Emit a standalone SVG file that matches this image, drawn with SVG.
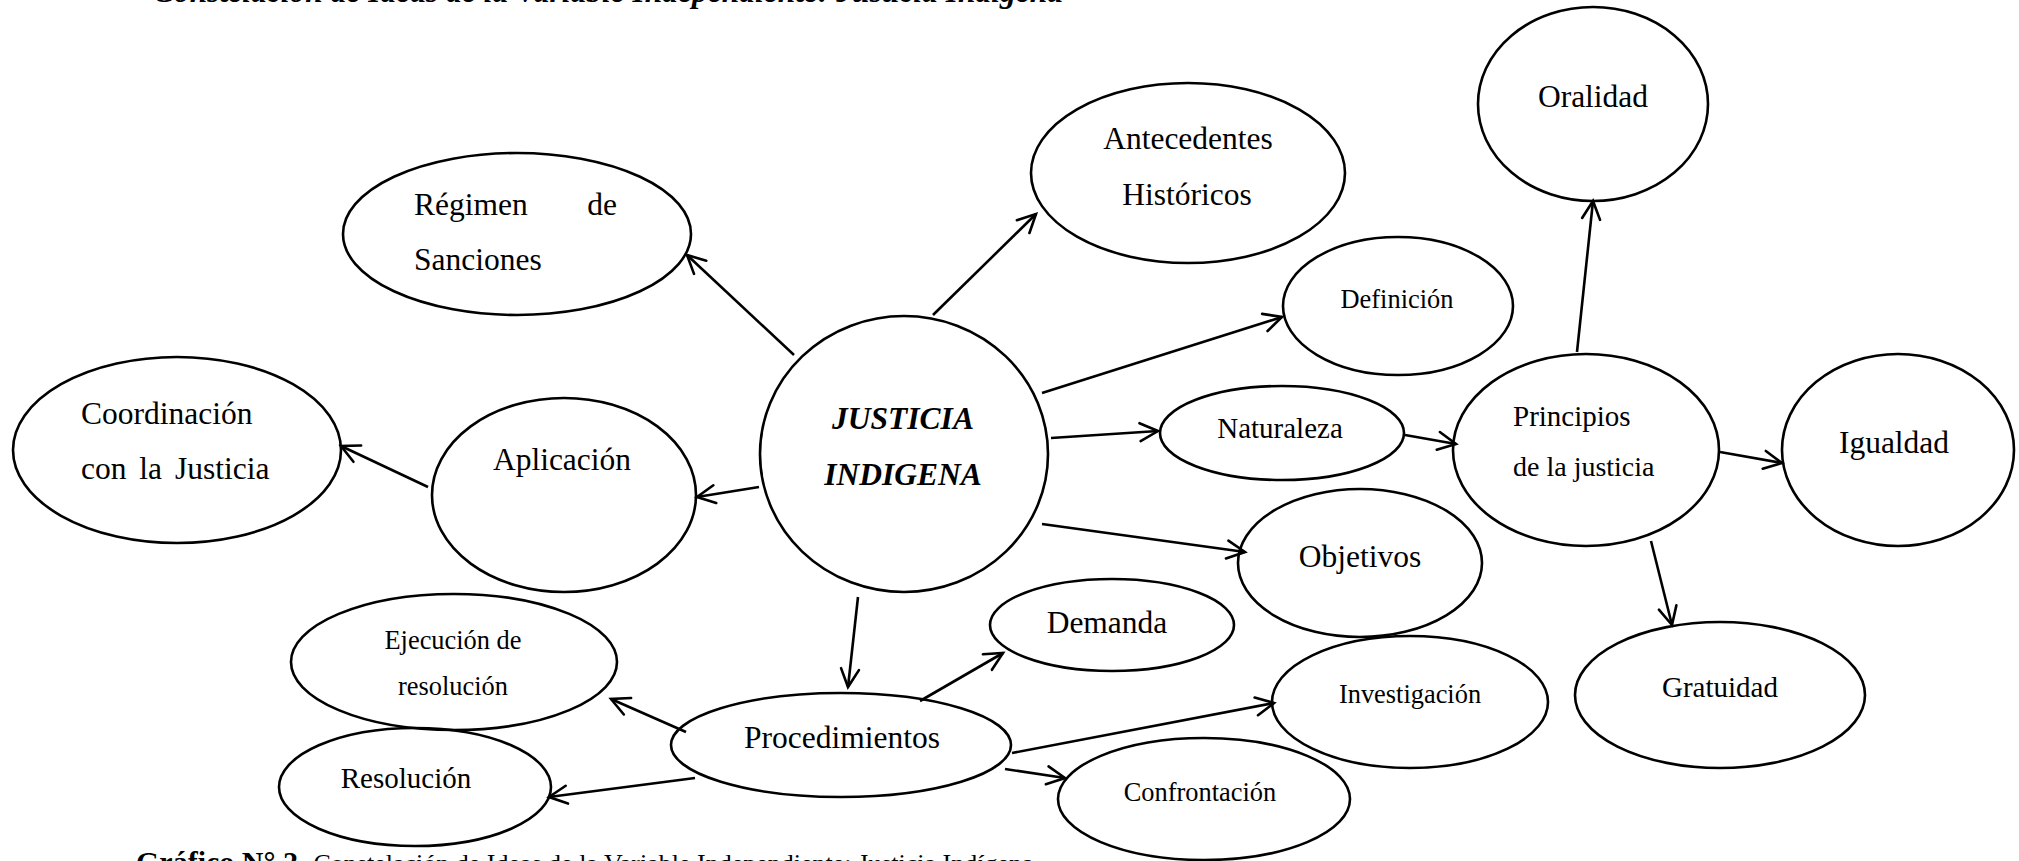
<svg xmlns="http://www.w3.org/2000/svg" width="2019" height="861" viewBox="0 0 2019 861">
<style>
.n{fill:none;stroke:#000;stroke-width:2.6}
.t{font-family:"Liberation Serif","Times New Roman",serif;fill:#000}
.c{stroke:#000;stroke-width:2.6;fill:none;marker-end:url(#ah)}
.m{text-anchor:middle}
</style>
<defs>
<marker id="ah" markerUnits="userSpaceOnUse" orient="auto" markerWidth="40" markerHeight="40" refX="0" refY="0" viewBox="-20 -20 40 40" overflow="visible">
<path d="M-18,-9 L0,0 L-18,9" fill="none" stroke="#000" stroke-width="2.6" stroke-linecap="round" stroke-linejoin="miter"/>
</marker>
</defs>
<rect width="2019" height="861" fill="#fff"/>
<text class="t" x="153" y="1.5" font-size="31.5" font-weight="bold" font-style="italic">Constelación de Ideas de la Variable Independiente: Justicia Indígena</text>
<g id="connectors">
<line class="c" x1="794" y1="355" x2="687" y2="255"/>
<line class="c" x1="933" y1="315" x2="1036" y2="214"/>
<line class="c" x1="1042" y1="393" x2="1282" y2="317"/>
<line class="c" x1="1051" y1="438" x2="1158" y2="431"/>
<line class="c" x1="1042" y1="524" x2="1245" y2="552"/>
<line class="c" x1="759" y1="487" x2="697" y2="497"/>
<line class="c" x1="858" y1="597" x2="848" y2="687"/>
<line class="c" x1="428" y1="487" x2="341" y2="446"/>
<line class="c" x1="1405" y1="435" x2="1456" y2="444"/>
<line class="c" x1="1577" y1="352" x2="1593" y2="201"/>
<line class="c" x1="1720" y1="452" x2="1782" y2="463"/>
<line class="c" x1="1651" y1="541" x2="1672" y2="625"/>
<line class="c" x1="920" y1="701" x2="1003" y2="653"/>
<line class="c" x1="1012" y1="753" x2="1274" y2="703"/>
<line class="c" x1="1005" y1="769" x2="1065" y2="778"/>
<line class="c" x1="686" y1="732" x2="611" y2="699"/>
<line class="c" x1="695" y1="778" x2="549" y2="797"/>
</g>
<g id="justicia">
<ellipse class="n" cx="904" cy="454" rx="144" ry="138"/>
<text class="t m" x="903" y="429" font-size="31.5" font-weight="bold" font-style="italic">JUSTICIA</text>
<text class="t m" x="903" y="485" font-size="31.5" font-weight="bold" font-style="italic">INDIGENA</text>
</g>
<g id="regimen">
<ellipse class="n" cx="517" cy="234" rx="174" ry="81"/>
<text class="t" x="414" y="215" font-size="31.5">Régimen</text>
<text class="t" x="617" y="215" font-size="31.5" text-anchor="end">de</text>
<text class="t" x="414" y="270" font-size="31.5">Sanciones</text>
</g>
<g id="antecedentes">
<ellipse class="n" cx="1188" cy="173" rx="157" ry="90"/>
<text class="t m" x="1188" y="149" font-size="31.5">Antecedentes</text>
<text class="t m" x="1187" y="205" font-size="31.5">Históricos</text>
</g>
<g id="definicion">
<ellipse class="n" cx="1398" cy="306" rx="115" ry="69"/>
<text class="t m" x="1397" y="308" font-size="26.4">Definición</text>
</g>
<g id="naturaleza">
<ellipse class="n" cx="1282" cy="433" rx="122" ry="47"/>
<text class="t m" x="1280" y="438" font-size="29">Naturaleza</text>
</g>
<g id="objetivos">
<ellipse class="n" cx="1360" cy="563" rx="122" ry="74"/>
<text class="t m" x="1360" y="567" font-size="31.5">Objetivos</text>
</g>
<g id="principios">
<ellipse class="n" cx="1586" cy="450" rx="133" ry="96"/>
<text class="t" x="1513" y="426" font-size="29">Principios</text>
<text class="t" x="1513" y="476" font-size="28">de la justicia</text>
</g>
<g id="oralidad">
<ellipse class="n" cx="1593" cy="104" rx="115" ry="97"/>
<text class="t m" x="1593" y="107" font-size="31.5">Oralidad</text>
</g>
<g id="igualdad">
<ellipse class="n" cx="1898" cy="450" rx="116" ry="96"/>
<text class="t m" x="1894" y="453" font-size="31.5">Igualdad</text>
</g>
<g id="gratuidad">
<ellipse class="n" cx="1720" cy="695" rx="145" ry="73"/>
<text class="t m" x="1720" y="697" font-size="29">Gratuidad</text>
</g>
<g id="aplicacion">
<ellipse class="n" cx="564" cy="495" rx="132" ry="97"/>
<text class="t m" x="562" y="470" font-size="31.5">Aplicación</text>
</g>
<g id="coordinacion">
<ellipse class="n" cx="177" cy="450" rx="164" ry="93"/>
<text class="t" x="81" y="424" font-size="31.5">Coordinación</text>
<text class="t" x="81" y="479" font-size="31.5" word-spacing="5">con la Justicia</text>
</g>
<g id="procedimientos">
<ellipse class="n" cx="841" cy="745" rx="170" ry="52"/>
<text class="t m" x="842" y="748" font-size="31.5">Procedimientos</text>
</g>
<g id="ejecucion">
<ellipse class="n" cx="454" cy="662" rx="163" ry="68"/>
<text class="t m" x="453" y="649" font-size="26.4">Ejecución de</text>
<text class="t m" x="453" y="695" font-size="26.4">resolución</text>
</g>
<g id="resolucion">
<ellipse class="n" cx="415" cy="787" rx="136" ry="59"/>
<text class="t m" x="406" y="788" font-size="29">Resolución</text>
</g>
<g id="demanda">
<ellipse class="n" cx="1112" cy="625" rx="122" ry="46"/>
<text class="t m" x="1107" y="633" font-size="31.5">Demanda</text>
</g>
<g id="investigacion">
<ellipse class="n" cx="1410" cy="702" rx="138" ry="66"/>
<text class="t m" x="1410" y="703" font-size="26.4">Investigación</text>
</g>
<g id="confrontacion">
<ellipse class="n" cx="1204" cy="799" rx="146" ry="61"/>
<text class="t m" x="1200" y="801" font-size="26.4">Confrontación</text>
</g>
<text class="t" x="136" y="872" font-size="30"><tspan font-weight="bold">Gráfico N° 2.</tspan><tspan font-size="26" dx="8">Constelación de Ideas de la Variable Independiente: Justicia Indígena</tspan></text>
</svg>
